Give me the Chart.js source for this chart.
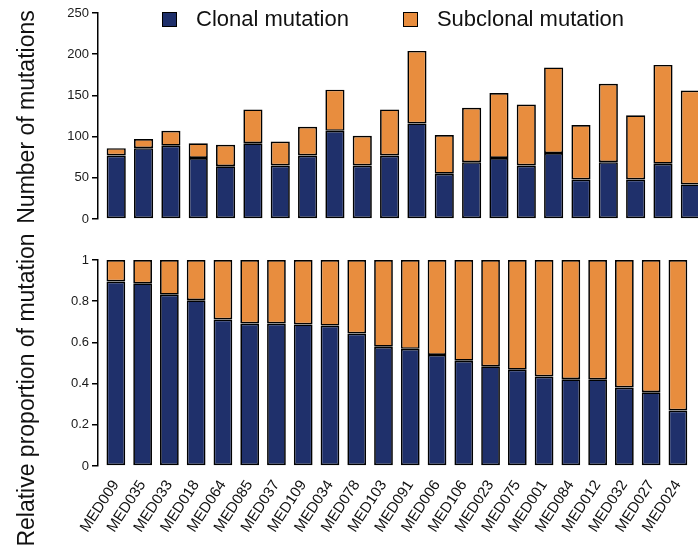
<!DOCTYPE html>
<html>
<head>
<meta charset="utf-8">
<script src="https://cdn.jsdelivr.net/npm/chart.js@4.4.1/dist/chart.umd.min.js"></script>
<style>
  html, body { margin: 0; padding: 0; background: #fff; width: 698px; height: 551px; overflow: hidden; }
  #wrap { position: relative; width: 698px; height: 551px; overflow: hidden; }
  #topBox { position: absolute; left: 0; top: 0; width: 704px; height: 240px; }
  #bottomBox { position: absolute; left: 0; top: 225px; width: 704px; height: 326px; }
  #legend { position: absolute; left: 162px; top: 6px; display: flex; gap: 54px;
            font-family: "Liberation Sans", Arial, Helvetica, sans-serif; font-size: 22px; color: #111; }
  .item { display: flex; align-items: center; }
  .swatch { width: 13px; height: 13px; border: 1.5px solid #000; margin-right: 19px; }
</style>
</head>
<body>
<div id="wrap">
  <div id="topBox"><canvas id="countChart"></canvas></div>
  <div id="bottomBox"><canvas id="shareChart"></canvas></div>
  <div id="legend"></div>
</div>
<script>
// Samples, ordered by clonal share
const categories = ["MED009","MED035","MED033","MED018","MED064","MED085","MED037","MED109","MED034","MED078","MED103",
                    "MED091","MED006","MED106","MED023","MED075","MED001","MED084","MED012","MED032","MED027","MED024"];
// Mutation counts per sample
const clonalCounts    = [77, 86, 89, 74, 64, 92, 65, 77, 107, 65, 77, 116, 55, 69, 74, 65, 80, 48, 69, 48, 67, 42];
const subclonalCounts = [ 9, 11, 18, 18, 26, 41, 29, 35,  50, 36, 56,  88, 47, 66, 79, 74, 104, 66, 95, 78, 120, 114];
const seriesNames = ["Clonal mutation", "Subclonal mutation"];
const countTickStep = 50;
const shareTickStep = 0.2;

const NAVY = "#1f306b";
const ORANGE = "#e88d3e";
const FONT = "'Liberation Sans', Arial, Helvetica, sans-serif";

// Relative proportions derived from the counts
const totals = clonalCounts.map((c, i) => c + subclonalCounts[i]);
const clonalShare = clonalCounts.map((c, i) => c / totals[i]);
const subclonalShare = subclonalCounts.map((s, i) => s / totals[i]);

const toPoints = arr => arr.map((v, i) => ({ x: i, y: v }));

// Rotated axis title drawn at the left edge
const sideTitle = {
  id: 'sideTitle',
  afterDraw(chart, args, opts) {
    const ctx = chart.ctx;
    ctx.save();
    ctx.translate(opts.x, opts.y);
    ctx.rotate(-Math.PI / 2);
    ctx.font = "23px " + FONT;
    ctx.fillStyle = "#111";
    ctx.textAlign = "center";
    ctx.textBaseline = "middle";
    ctx.fillText(opts.text, 0, 0);
    ctx.restore();
  }
};

function barSet(label, data, color) {
  return {
    label, data,
    backgroundColor: color,
    borderColor: "#000",
    borderWidth: 1.7,
    borderSkipped: false,
    barPercentage: 0.7,
    categoryPercentage: 1.0
  };
}

function yScale(max, step) {
  return {
    stacked: true,
    min: 0, max: max,
    afterFit: s => { s.width = 98; },
    border: { display: true, color: "#000", width: 1.5 },
    grid: { display: true, drawOnChartArea: false, drawTicks: true, tickLength: 6, color: "#000", lineWidth: 1.5 },
    ticks: {
      stepSize: step, padding: 3, color: "#1a1a1a", font: { family: FONT, size: 13 },
      callback: v => String(Number(v.toFixed(2)))
    }
  };
}

function xScale(showLabels) {
  const scale = {
    type: 'linear',
    stacked: true,
    offset: false,
    min: -0.667, max: 21.5,
    display: showLabels,
    border: { display: false },
    grid: { display: false, drawTicks: false },
    ticks: {
      stepSize: 1,
      includeBounds: false,
      autoSkip: false,
      minRotation: 57, maxRotation: 57,
      padding: 11,
      color: "#111",
      font: { family: FONT, size: 15 },
      callback: v => (Number.isInteger(v) && categories[v] !== undefined) ? categories[v] : ''
    }
  };
  if (showLabels) scale.afterFit = s => { s.height = 85; };
  return scale;
}

const common = {
  responsive: true,
  maintainAspectRatio: false,
  animation: false,
  events: [],
  plugins: { legend: { display: false }, tooltip: { enabled: false } }
};

new Chart(document.getElementById('countChart'), {
  type: 'bar',
  data: { datasets: [
    barSet(seriesNames[0], toPoints(clonalCounts), NAVY),
    barSet(seriesNames[1], toPoints(subclonalCounts), ORANGE)
  ] },
  options: Object.assign({}, common, {
    layout: { padding: { top: 13, bottom: 21, left: 0, right: 0 } },
    scales: { x: xScale(false), y: yScale(250, countTickStep) },
    plugins: Object.assign({}, common.plugins, { sideTitle: { text: "Number of mutations", x: 28, y: 117 } })
  }),
  plugins: [sideTitle]
});

new Chart(document.getElementById('shareChart'), {
  type: 'bar',
  data: { datasets: [
    barSet(seriesNames[0], toPoints(clonalShare), NAVY),
    barSet(seriesNames[1], toPoints(subclonalShare), ORANGE)
  ] },
  options: Object.assign({}, common, {
    layout: { padding: { top: 35, bottom: 0, left: 0, right: 0 } },
    scales: { x: xScale(true), y: yScale(1, shareTickStep) },
    plugins: Object.assign({}, common.plugins, { sideTitle: { text: "Relative proportion of mutation", x: 28, y: 165 } })
  }),
  plugins: [sideTitle]
});

// Legend built from the series names and colours
const legend = document.getElementById('legend');
[[seriesNames[0], NAVY], [seriesNames[1], ORANGE]].forEach(([name, color]) => {
  const item = document.createElement('div');
  item.className = 'item';
  const sw = document.createElement('span');
  sw.className = 'swatch';
  sw.style.background = color;
  const tx = document.createElement('span');
  tx.textContent = name;
  item.appendChild(sw);
  item.appendChild(tx);
  legend.appendChild(item);
});
</script>
</body>
</html>
